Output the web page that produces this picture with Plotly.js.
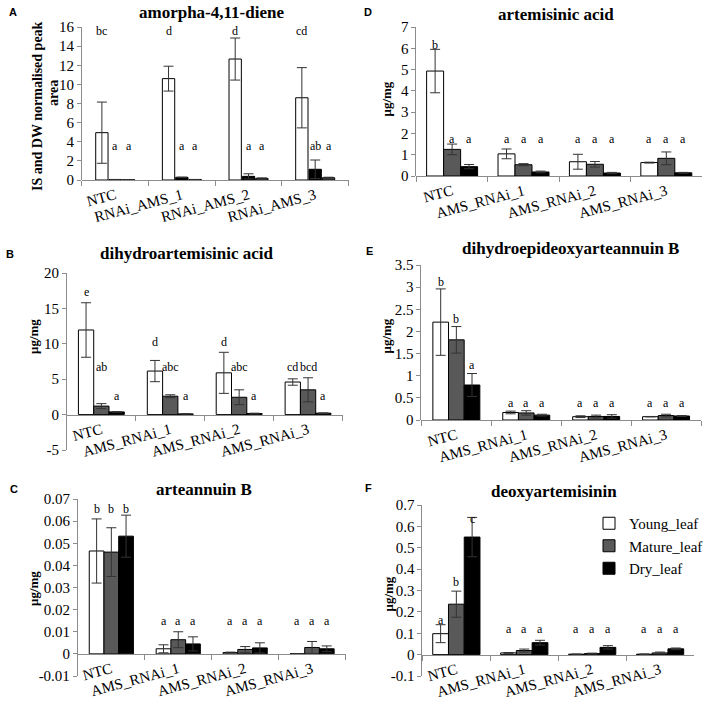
<!DOCTYPE html>
<html><head><meta charset="utf-8">
<script src="https://cdn.plot.ly/plotly-3.0.1.min.js"></script>
<style>html,body{margin:0;padding:0;background:#fff}#chart{width:708px;height:701px}</style>
</head><body><div id="chart"></div>
<script>
// ---------- DATA ----------
const groupsA = ['NTC', 'RNAi_AMS_1', 'RNAi_AMS_2', 'RNAi_AMS_3'];
const groups = ['NTC', 'AMS_RNAi_1', 'AMS_RNAi_2', 'AMS_RNAi_3'];
const seriesNames = ['Young_leaf', 'Mature_leaf', 'Dry_leaf'];

// A: amorpha-4,11-diene (bars drawn white, black, gray)
const A_young = [4.95, 10.6, 12.65, 8.6];
const A_youngErr = [3.2, 1.3, 2.2, 3.15];
const A_dark = [0.05, 0.28, 0.38, 1.12];
const A_darkErr = [0.01, 0.02, 0.27, 0.97];
const A_gray = [0.03, 0.05, 0.17, 0.24];
const A_grayErr = [0.01, 0.01, 0.05, 0.05];
const A_lettersYoung = ['bc', 'd', 'd', 'cd'];
const A_lettersDark = ['a', 'a', 'a', 'ab'];
const A_lettersGray = ['a', 'a', 'a', 'a'];
const A_letterY = [[15.6, 15.6, 15.6, 15.6], [3.6, 3.6, 3.6, 3.6], [3.6, 3.6, 3.6, 3.6]];
const A_ticks = [0, 2, 4, 6, 8, 10, 12, 14, 16];

// B: dihydroartemisinic acid
const B_young = [11.95, 6.15, 5.9, 4.6];
const B_youngErr = [3.85, 1.5, 2.9, 0.45];
const B_mature = [1.2, 2.6, 2.45, 3.5];
const B_matureErr = [0.35, 0.2, 1.05, 1.7];
const B_dry = [0.38, 0.1, 0.15, 0.2];
const B_dryErr = [0.05, 0.02, 0.05, 0.05];
const B_lettersYoung = ['e', 'd', 'd', 'cd'];
const B_lettersMature = ['ab', 'abc', 'abc', 'bcd'];
const B_lettersDry = ['a', 'a', 'a', 'a'];
const B_letterY = [[17.3, 10.2, 10.2, 6.7], [6.7, 6.7, 6.7, 6.7], [2.6, 2.6, 2.6, 2.6]];
const B_ticks = [-5, 0, 5, 10, 15, 20];

// C: arteannuin B
const C_young = [0.0465, 0.0023, 0.0006, 0];
const C_youngErr = [0.0145, 0.0018, 0.0002, 0];
const C_mature = [0.046, 0.0064, 0.002, 0.0029];
const C_matureErr = [0.011, 0.0036, 0.0013, 0.0027];
const C_dry = [0.0532, 0.0045, 0.0027, 0.0023];
const C_dryErr = [0.0095, 0.0032, 0.0023, 0.0013];
const C_lettersYoung = ['b', 'a', 'a', 'a'];
const C_lettersMature = ['b', 'a', 'a', 'a'];
const C_lettersDry = ['b', 'a', 'a', 'a'];
const C_letterY = [[0.0656, 0.0147, 0.0147, 0.0147], [0.0656, 0.0147, 0.0147, 0.0147], [0.0656, 0.0147, 0.0147, 0.0147]];
const C_ticks = [-0.01, 0, 0.01, 0.02, 0.03, 0.04, 0.05, 0.06, 0.07];

// D: artemisinic acid
const D_young = [4.93, 1.04, 0.67, 0.63];
const D_youngErr = [1.02, 0.23, 0.35, 0.02];
const D_mature = [1.25, 0.53, 0.55, 0.83];
const D_matureErr = [0.25, 0.05, 0.13, 0.3];
const D_dry = [0.44, 0.19, 0.14, 0.15];
const D_dryErr = [0.1, 0.04, 0.03, 0.02];
const D_lettersYoung = ['b', 'a', 'a', 'a'];
const D_lettersMature = ['a', 'a', 'a', 'a'];
const D_lettersDry = ['a', 'a', 'a', 'a'];
const D_letterY = [[6.17, 1.75, 1.75, 1.75], [1.75, 1.75, 1.75, 1.75], [1.75, 1.75, 1.75, 1.75]];
const D_ticks = [0, 1, 2, 3, 4, 5, 6, 7];

// E: dihydroepideoxyarteannuin B
const E_young = [2.21, 0.17, 0.075, 0.075];
const E_youngErr = [0.75, 0.03, 0.02, 0.005];
const E_mature = [1.81, 0.16, 0.08, 0.1];
const E_matureErr = [0.3, 0.05, 0.03, 0.03];
const E_dry = [0.79, 0.11, 0.08, 0.09];
const E_dryErr = [0.26, 0.02, 0.04, 0.01];
const E_lettersYoung = ['b', 'a', 'a', 'a'];
const E_lettersMature = ['b', 'a', 'a', 'a'];
const E_lettersDry = ['a', 'a', 'a', 'a'];
const E_letterY = [[3.11, 0.38, 0.38, 0.38], [2.27, 0.38, 0.38, 0.38], [1.24, 0.38, 0.38, 0.38]];
const E_ticks = [0, 0.5, 1, 1.5, 2, 2.5, 3, 3.5];

// F: deoxyartemisinin
const F_young = [0.098, 0.008, 0.002, 0.002];
const F_youngErr = [0.042, 0.002, 0.001, 0.001];
const F_mature = [0.236, 0.019, 0.005, 0.008];
const F_matureErr = [0.061, 0.007, 0.002, 0.004];
const F_dry = [0.55, 0.056, 0.034, 0.027];
const F_dryErr = [0.092, 0.011, 0.008, 0.004];
const F_lettersYoung = ['a', 'a', 'a', 'a'];
const F_lettersMature = ['b', 'a', 'a', 'a'];
const F_lettersDry = ['c', 'a', 'a', 'a'];
const F_letterY = [[0.161, 0.122, 0.122, 0.122], [0.34, 0.122, 0.122, 0.122], [0.634, 0.122, 0.122, 0.122]];
const F_ticks = [-0.1, 0, 0.1, 0.2, 0.3, 0.4, 0.5, 0.6, 0.7];

// ---------- STYLE / LAYOUT ----------
const W = 708, H = 701;
const fx = p => p / W, fy = p => 1 - p / H;
const SERIF = '"Liberation Serif"';
const SANS = '"Liberation Sans"';
const WHITE = '#ffffff', GRAY = '#595959', BLACK = '#000000';
const AXC = '#8c8c8c';

const panels = [
  {id: '', label: 'A', cats: groupsA, title: 'amorpha-4,11-diene',
   ytitleLines: ['IS and DW normalised peak', 'area'], ytLinePos: [[37, 106], [53, 93]],
   vals: [A_young, A_dark, A_gray], errs: [A_youngErr, A_darkErr, A_grayErr], colors: [WHITE, BLACK, GRAY],
   letters: [A_lettersYoung, A_lettersDark, A_lettersGray], letterY: A_letterY, ticks: A_ticks,
   box: [82, 349, 27, 180], range: [0, 16], barw: 0.185, centers: [-0.2, 0, 0.2],
   titlePos: [212, 12], labelPos: [13, 12], legend: false},
  {id: '2', label: 'D', cats: groups, title: 'artemisinic acid',
   ytitleLines: ['μg/mg'], ytLinePos: [[387, 99]],
   vals: [D_young, D_mature, D_dry], errs: [D_youngErr, D_matureErr, D_dryErr], colors: [WHITE, GRAY, BLACK],
   letters: [D_lettersYoung, D_lettersMature, D_lettersDry], letterY: D_letterY, ticks: D_ticks,
   box: [417, 703, 27, 176], range: [0, 7], barw: 0.238, centers: [-0.238, 0, 0.238],
   titlePos: [557, 15], labelPos: [369, 12], legend: false},
  {id: '3', label: 'B', cats: groups, title: 'dihydroartemisinic acid',
   ytitleLines: ['μg/mg'], ytLinePos: [[33, 336]],
   vals: [B_young, B_mature, B_dry], errs: [B_youngErr, B_matureErr, B_dryErr], colors: [WHITE, GRAY, BLACK],
   letters: [B_lettersYoung, B_lettersMature, B_lettersDry], letterY: B_letterY, ticks: B_ticks,
   box: [67, 343, 273, 450], range: [-5, 20], barw: 0.222, centers: [-0.222, 0, 0.222],
   titlePos: [187, 253], labelPos: [10, 254], legend: false},
  {id: '4', label: 'E', cats: groups, title: 'dihydroepideoxyarteannuin B',
   ytitleLines: ['μg/mg'], ytLinePos: [[387, 336]],
   vals: [E_young, E_mature, E_dry], errs: [E_youngErr, E_matureErr, E_dryErr], colors: [WHITE, GRAY, BLACK],
   letters: [E_lettersYoung, E_lettersMature, E_lettersDry], letterY: E_letterY, ticks: E_ticks,
   box: [422, 702, 265, 420], range: [0, 3.5], barw: 0.224, centers: [-0.224, 0, 0.224],
   titlePos: [571, 249], labelPos: [370, 251], legend: false},
  {id: '5', label: 'C', cats: groups, title: 'arteannuin B',
   ytitleLines: ['μg/mg'], ytLinePos: [[33, 588]],
   vals: [C_young, C_mature, C_dry], errs: [C_youngErr, C_matureErr, C_dryErr], colors: [WHITE, GRAY, BLACK],
   letters: [C_lettersYoung, C_lettersMature, C_lettersDry], letterY: C_letterY, ticks: C_ticks,
   box: [78, 346, 499, 676], range: [-0.01, 0.07], barw: 0.22, centers: [-0.22, 0, 0.22],
   titlePos: [204, 489], labelPos: [14, 489], legend: false},
  {id: '6', label: 'F', cats: groups, title: 'deoxyartemisinin',
   ytitleLines: ['μg/mg'], ytLinePos: [[389, 594]],
   vals: [F_young, F_mature, F_dry], errs: [F_youngErr, F_matureErr, F_dryErr], colors: [WHITE, GRAY, BLACK],
   letters: [F_lettersYoung, F_lettersMature, F_lettersDry], letterY: F_letterY, ticks: F_ticks,
   box: [423, 695, 505, 676], range: [-0.1, 0.7], barw: 0.232, centers: [-0.232, 0, 0.232],
   titlePos: [555, 491], labelPos: [369, 488], legend: true}
];

const data = [];
const layout = {
  width: W, height: H,
  margin: {l: 0, r: 0, t: 0, b: 0},
  paper_bgcolor: '#ffffff', plot_bgcolor: 'rgba(0,0,0,0)',
  barmode: 'overlay',
  showlegend: true,
  legend: {x: fx(590), y: fy(507), xanchor: 'left', yanchor: 'top',
           font: {family: SERIF, size: 15, color: '#000'}, bgcolor: 'rgba(0,0,0,0)',
           tracegroupgap: 3, traceorder: 'normal', itemwidth: 30},
  annotations: [],
  font: {family: SERIF, color: '#000'}
};

panels.forEach(p => {
  const xa = 'x' + p.id, ya = 'y' + p.id;
  const [x0, x1, yt, yb] = p.box;
  const yd0 = fy(yb), yd1 = fy(yt);
  const zeroPos = yd0 + (yd1 - yd0) * (0 - p.range[0]) / (p.range[1] - p.range[0]);
  layout['xaxis' + p.id] = {
    domain: [fx(x0), fx(x1)], type: 'category', range: [-0.5, 3.5],
    anchor: 'free', position: zeroPos,
    showline: true, linecolor: AXC, linewidth: 1,
    ticks: 'outside', tickson: 'boundaries', ticklen: 5, tickcolor: AXC,
    tickangle: -15, tickfont: {family: SERIF, size: 15, color: '#000'},
    showgrid: false, zeroline: false, fixedrange: true
  };
  layout['yaxis' + p.id] = {
    domain: [yd0, yd1], range: p.range, anchor: xa,
    showline: true, linecolor: AXC, linewidth: 1,
    ticks: 'outside', ticklen: 4, tickcolor: AXC,
    tickvals: p.ticks, ticktext: p.ticks.map(String),
    tickfont: {family: SERIF, size: 15, color: '#000'},
    showgrid: false, zeroline: false, fixedrange: true
  };
  for (let j = 0; j < 3; j++) {
    const colorIdx = [WHITE, GRAY, BLACK].indexOf(p.colors[j]);
    data.push({
      type: 'bar', x: p.cats, y: p.vals[j], xaxis: xa, yaxis: ya,
      name: seriesNames[colorIdx], legendgroup: seriesNames[colorIdx],
      showlegend: p.legend,
      width: p.barw, offset: p.centers[j] - p.barw / 2,
      marker: {color: p.colors[j], line: {color: '#000', width: 1}},
      error_y: {type: 'data', array: p.errs[j], visible: true, color: '#333', thickness: 1, width: 5},
      hoverinfo: 'skip'
    });
    p.letters[j].forEach((t, i) => {
      layout.annotations.push({
        xref: xa, yref: ya, x: i + p.centers[j], y: p.letterY[j][i],
        text: t, showarrow: false, xanchor: 'center', yanchor: 'middle',
        font: {family: SERIF, size: 12, color: '#000'}
      });
    });
  }
  layout.annotations.push({
    xref: 'paper', yref: 'paper', x: fx(p.titlePos[0]), y: fy(p.titlePos[1]),
    text: '<b>' + p.title + '</b>', showarrow: false, xanchor: 'center', yanchor: 'middle',
    font: {family: SERIF, size: 17, color: '#000'}
  });
  layout.annotations.push({
    xref: 'paper', yref: 'paper', x: fx(p.labelPos[0]), y: fy(p.labelPos[1]),
    text: '<b>' + p.label + '</b>', showarrow: false, xanchor: 'center', yanchor: 'middle',
    font: {family: SANS, size: 11, color: '#000'}
  });
  p.ytitleLines.forEach((line, k) => {
    layout.annotations.push({
      xref: 'paper', yref: 'paper', x: fx(p.ytLinePos[k][0]), y: fy(p.ytLinePos[k][1]),
      text: '<b>' + line + '</b>', showarrow: false, xanchor: 'center', yanchor: 'middle',
      textangle: -90, font: {family: SERIF, size: p.label === 'A' ? 14 : 13, color: '#000'}
    });
  });
});

Plotly.newPlot('chart', data, layout, {displayModeBar: false, staticPlot: true});
</script>
</body></html>
